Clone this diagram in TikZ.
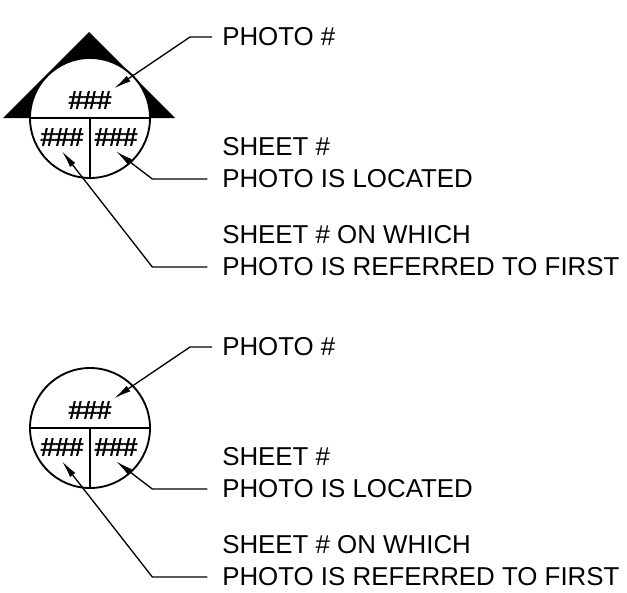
\documentclass[tikz,border=0pt]{standalone}
\usepackage{fontspec}
\setmainfont{Liberation Sans}
\newfontfamily\hashfont[FakeBold=2.5]{Liberation Sans}
\usetikzlibrary{arrows.meta, positioning}

\begin{document}
\begin{tikzpicture}[x=0.75pt, y=-0.75pt]
        \tikzset{
          circ/.style={circle, draw, line width=1.4pt, fill=white,
                       minimum size=90pt, inner sep=0pt},
          hash/.style={font=\hashfont\fontsize{19}{21}\selectfont, inner sep=2pt},
          lbl/.style={anchor=west, inner sep=0pt,
                      font=\fontsize{19.4}{23}\selectfont},
          lead/.style={line width=1pt, -{Latex[length=13pt, width=5pt]}}
        }
        \useasboundingbox (0,0) rectangle (627,592);
        % arrow head behind the upper symbol
        \fill (3,118) -- (89,32) -- (175,118) -- cycle;

        \foreach \dy/\n in {0/a, 310/b} {
          \node[circ] (c\n) at (90,118+\dy) {};
          \draw[line width=1.4pt] (c\n.west) -- (c\n.east);
          \draw[line width=1.4pt] (c\n.center) -- (c\n.south);
          \node[hash] (ht\n) at (90,100+\dy) {\#\#\#};
          \node[hash] (hl\n) at (62,137+\dy) {\#\#\#};
          \node[hash] (hr\n) at (116,137+\dy) {\#\#\#};

          \node[lbl] (pn\n) at (222,37+\dy) {PHOTO \#};
          \node[lbl] (sa\n) at (222,147+\dy) {SHEET \#};
          \node[lbl] (sb\n) at (222,179+\dy) {PHOTO IS LOCATED};
          \node[lbl] (fa\n) at (222,235+\dy) {SHEET \# ON WHICH};
          \node[lbl] (fb\n) at (222,267+\dy) {PHOTO IS REFERRED TO FIRST};

          \draw[lead] ([xshift=-7.5pt]pn\n.west) -- ++(-22,0) -- (ht\n.north east);
          \draw[lead] ([xshift=-11pt]sb\n.west) -- ++(-55,0) -- ([yshift=-2pt]hr\n.south);
          \draw[lead] ([xshift=-11pt]fb\n.west) -- ++(-55,0) -- ([yshift=-2pt]hl\n.south);
        }
      \end{tikzpicture}
\end{document}
